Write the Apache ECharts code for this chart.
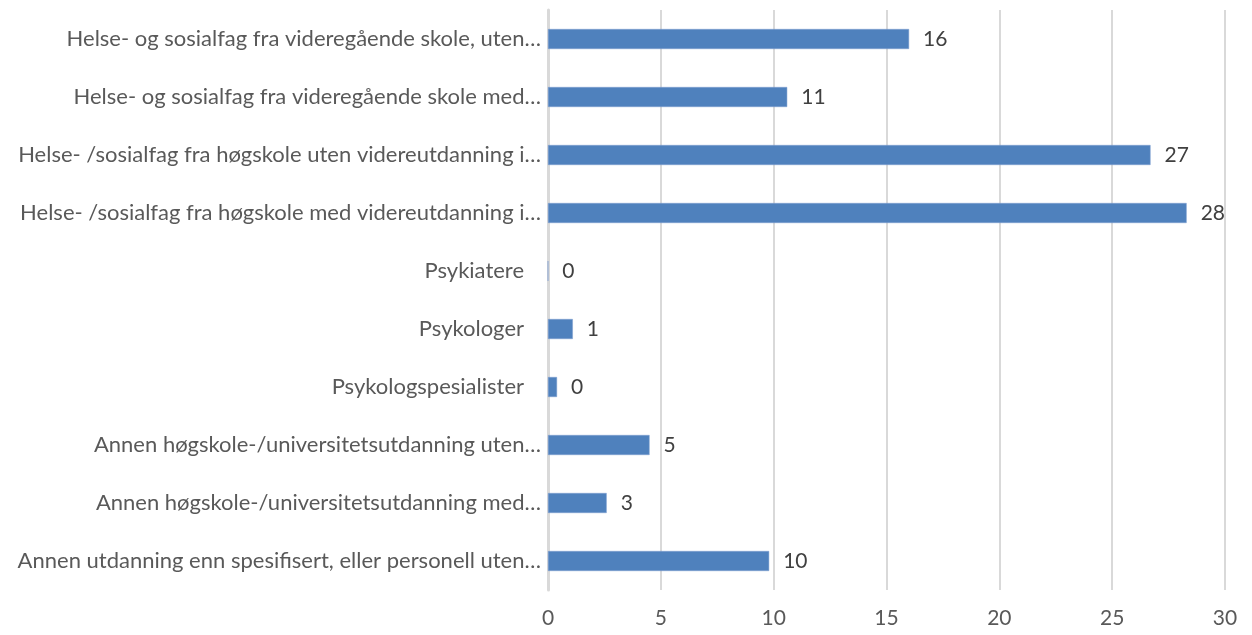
<!DOCTYPE html>
<html>
<head>
<meta charset="utf-8">
<script src="https://cdn.jsdelivr.net/npm/echarts@6/dist/echarts.min.js"></script>
<style>
  html, body { margin: 0; padding: 0; background: #fff; }
  #chart { width: 1252px; height: 635px; }
</style>
</head>
<body>
<div id="chart"></div>
<script>
// categories top to bottom
var categories = [
  'Helse- og sosialfag fra videregående skole, uten…',
  'Helse- og sosialfag fra videregående skole med…',
  'Helse- /sosialfag fra høgskole uten videreutdanning i…',
  'Helse- /sosialfag fra høgskole med videreutdanning i…',
  'Psykiatere',
  'Psykologer',
  'Psykologspesialister',
  'Annen høgskole-/universitetsutdanning uten…',
  'Annen høgskole-/universitetsutdanning med…',
  'Annen utdanning enn spesifisert, eller personell uten…'
];
var values = [16.0, 10.6, 26.7, 28.3, 0, 1.1, 0.4, 4.5, 2.6, 9.8];
var xTicks = { min: 0, max: 30, step: 5 };

var font = 'Lato, "Open Sans", sans-serif';

var chart = echarts.init(document.getElementById('chart'));
chart.setOption({
  animation: false,
  grid: { left: 548, right: 27, top: 10, bottom: 45 },
  xAxis: {
    type: 'value',
    min: xTicks.min,
    max: xTicks.max,
    interval: xTicks.step,
    axisLine: { show: false },
    axisTick: { show: false },
    splitLine: { show: true, lineStyle: { color: '#d9d9d9', width: 2 } },
    axisLabel: { color: '#595959', fontSize: 21, fontFamily: font, margin: 18 }
  },
  yAxis: {
    type: 'category',
    data: categories,
    inverse: true,
    axisLine: { show: true, lineStyle: { color: '#d9d9d9', width: 3 } },
    axisTick: { show: false },
    axisLabel: {
      color: '#595959', fontSize: 22, fontFamily: font, margin: 7,
      // full names sit a bit further from the axis than the cut ones
      formatter: function (v) {
        return v.slice(-1) === '…' ? '{c|' + v + '}' : '{n|' + v + '}';
      },
      rich: {
        c: { color: '#595959', fontSize: 22, fontFamily: font },
        n: { color: '#595959', fontSize: 22, fontFamily: font, padding: [0, 17, 0, 0] }
      }
    }
  },
  series: [{
    type: 'bar',
    data: values,
    barWidth: 20,
    itemStyle: { color: '#4f81bd', borderColor: '#7f9fd0', borderWidth: 0.5 },
    label: {
      show: true,
      position: 'right',
      distance: 14,
      color: '#404040',
      fontSize: 21,
      fontFamily: font,
      formatter: function (p) { return Math.round(p.value); }
    }
  }]
});
</script>
</body>
</html>
